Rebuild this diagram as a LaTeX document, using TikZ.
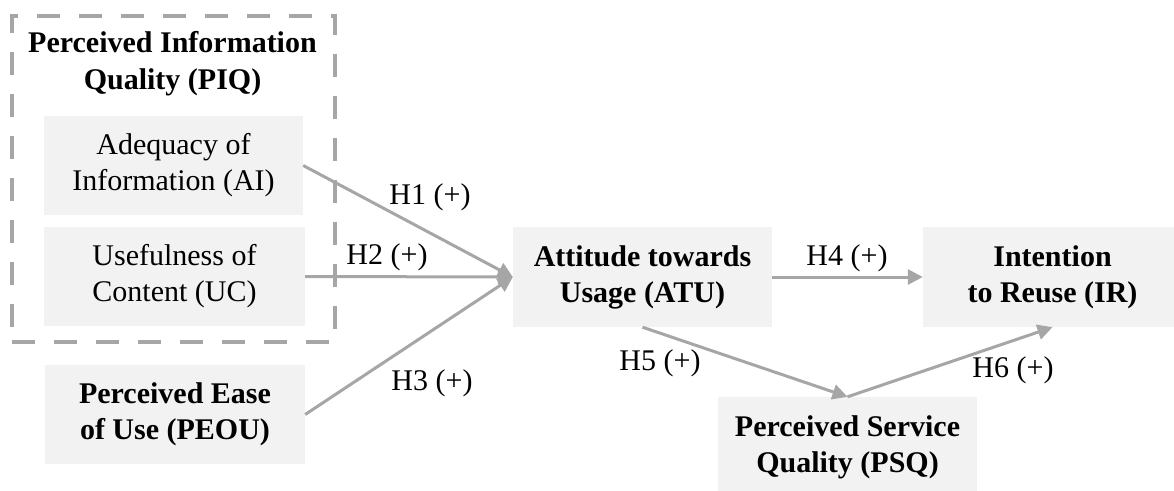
\documentclass[tikz,border=0pt]{standalone}
\usepackage{fontspec}
\setmainfont{Liberation Serif}
\usetikzlibrary{arrows.meta}
\definecolor{boxfill}{HTML}{F2F2F2}
\definecolor{linegray}{HTML}{A6A6A6}
\tikzset{
  varbox/.style={fill=boxfill, inner sep=0pt, align=center,
    minimum height=99pt, font=\fontsize{30}{36}\selectfont},
  conn/.style={draw=linegray, line width=3pt,
    -{Triangle[length=15pt,width=15pt]}},
  hlabel/.style={inner sep=0pt, font=\fontsize{30}{36}\selectfont},
  groupbox/.style={draw=linegray, line width=4.5pt, dash pattern=on 23pt off 19pt,
    inner sep=0pt},
}
\begin{document}
\begin{tikzpicture}[x=1pt,y=-1pt]
\useasboundingbox (0,0) rectangle (1174,490);
% group box
\node[groupbox, minimum width=323pt, minimum height=326pt] (PIQ) at (173.5,179) {};
\node[hlabel, align=center, font=\fontsize{30}{37}\selectfont\bfseries] (PIQtitle) at (172.5,64) {Perceived Information\\Quality (PIQ)};
% boxes
\node[varbox, minimum width=259pt] (AI) at (173.5,165.5) {Adequacy of\\Information (AI)};
\node[varbox, minimum width=261pt] (UC) at (174.5,276.5) {Usefulness of\\Content (UC)};
\node[varbox, minimum width=260pt, font=\fontsize{30}{36}\selectfont\bfseries] (PEOU) at (175,414.5) {Perceived Ease\\of Use (PEOU)};
\node[varbox, minimum width=259pt, minimum height=100pt, font=\fontsize{30}{36}\selectfont\bfseries] (ATU) at (642.5,277) {Attitude towards\\Usage (ATU)};
\node[varbox, minimum width=259pt, minimum height=100pt, font=\fontsize{30}{36}\selectfont\bfseries] (IR) at (1052.5,277) {Intention\\to Reuse (IR)};
\node[varbox, minimum width=259pt, minimum height=100pt, font=\fontsize{30}{36}\selectfont\bfseries] (PSQ) at (847.5,447) {Perceived Service\\Quality (PSQ)};
% connectors
\draw[conn] (AI.east) -- (ATU.west);
\draw[conn] (UC.east) -- (ATU.west);
\draw[conn] (PEOU.east) -- (ATU.west);
\draw[conn] (ATU.east) -- (IR.west);
\draw[conn] (ATU.south) -- (PSQ.north);
\draw[conn] (PSQ.north) -- (IR.south);
% labels
\node[hlabel] (h1) at (430,197) {H1 (+)};
\node[hlabel] (h2) at (387,257) {H2 (+)};
\node[hlabel] (h3) at (432,383) {H3 (+)};
\node[hlabel] (h4) at (847,258) {H4 (+)};
\node[hlabel] (h5) at (660,363) {H5 (+)};
\node[hlabel] (h6) at (1013,370) {H6 (+)};
\end{tikzpicture}
\end{document}
